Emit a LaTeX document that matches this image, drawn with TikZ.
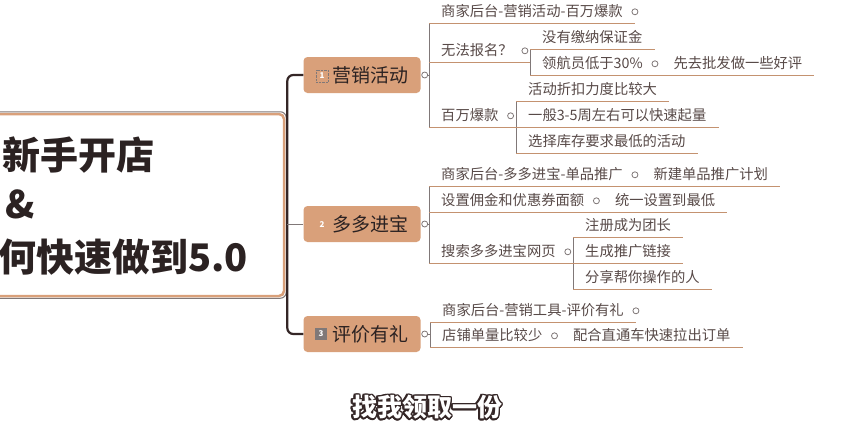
\documentclass[tikz,border=0pt]{standalone}
\usepackage{fontspec}
\usepackage{xcolor}
\usepackage{tikz}
\usepackage{contour}
\usetikzlibrary{positioning}
\setmainfont{Noto Sans CJK SC}
\definecolor{topicfill}{RGB}{217,160,122}
\definecolor{itemtext}{RGB}{88,74,72}
\definecolor{uline}{RGB}{196,146,112}
\definecolor{vline}{RGB}{128,120,120}
\definecolor{trunk}{RGB}{52,38,38}
\definecolor{dark}{RGB}{43,34,34}
\contourlength{1.6pt}

\begin{document}
\begin{tikzpicture}[x=1pt, y=-1pt, node distance=3pt]
  \tikzstyle{rootbox}=[rectangle, draw=topicfill, fill=white, line width=2.5pt, rounded corners=5pt, minimum width=304pt, minimum height=182pt]
  \tikzstyle{headline}=[anchor=base west, inner sep=0pt, text=dark, font=\fontsize{38}{44}\selectfont\bfseries]
  \tikzstyle{topic}=[rectangle, fill=topicfill, rounded corners=4pt, minimum width=117pt, minimum height=36pt, text=dark, font=\fontsize{19}{22}\selectfont]
  \tikzstyle{badge}=[rectangle, inner sep=0pt, minimum size=12pt, text=white, font=\fontsize{8}{8}\selectfont\bfseries]
  \tikzstyle{item}=[anchor=south west, inner xsep=12pt, inner ysep=4pt, text height=12pt, text depth=2pt, text=itemtext, font=\fontsize{14.3}{17}\selectfont]
  \tikzstyle{follow}=[item, anchor=west]
  \tikzstyle{knob}=[circle, draw=vline, fill=white, line width=0.8pt, minimum size=6pt, inner sep=0pt]
  \tikzstyle{ul}=[draw=uline, line width=1pt]
  \tikzstyle{vl}=[draw=vline, line width=1pt]
  \tikzstyle{stem}=[draw=trunk, line width=2.2pt, rounded corners=6pt]
  \fill[white] (0,0) rectangle (854,440);
  \useasboundingbox (0,0) rectangle (854,440);

  \node[rootbox] (root) at (132,205) {};
  \draw[vl, rounded corners=6pt] ([shift={(-1,-1)}]root.north west) rectangle ([shift={(1,1)}]root.south east);
  \node[headline] (t1) at (2,169) {新手开店};
  \node[headline] (t2) at (5,218) {\&};
  \node[headline] (t3) at (-2,271) {何快速做到5.0};

  \node[topic] (yx) at (362,75) {\hspace*{17pt}营销活动};
  \node[topic] (dd) at (362,224) {\hspace*{17pt}多多进宝};
  \node[topic] (pj) at (362,334) {\hspace*{17pt}评价有礼};
  \node[badge, draw=vline, densely dotted] (yx-n) at (322,76) {1};
  \node[badge] (dd-n) at (322,225) {2};
  \node[badge, fill=vline] (pj-n) at (321,334) {3};
  \draw[stem] (yx.west) -- ++(-16,0) |- (pj.west);
  \draw[vl] (dd.west) -- ++(-16,0);

  \node[item] (yxa) at (429,23) {商家后台-营销活动-百万爆款};
  \node[item] (yxb) at (429,62) {无法报名？};
  \node[item] (yxc) at (429,127) {百万爆款};
  \node[item] (yxb1) at (530,49) {没有缴纳保证金};
  \node[item] (yxb2) at (530,75) {领航员低于30\%};
  \node[item] (yxc1) at (516,101) {活动折扣力度比较大};
  \node[item] (yxc2) at (516,127) {一般3-5周左右可以快速起量};
  \node[item] (yxc3) at (516,153) {选择库存要求最低的活动};
  \node[knob] (yx-k) at ([xshift=4pt]yx.east) {};
  \node[knob] (yxa-k) at (yxa.east) {};
  \node[knob] (yxb-k) at (yxb.east) {};
  \node[knob] (yxb2-k) at (yxb2.east) {};
  \node[knob] (yxc-k) at (yxc.east) {};
  \node[follow, right=of yxb2-k] (yxb2a) {先去批发做一些好评};
  \draw[vl] (yx-k.east) -- (yx-k -| yxa.south west);
  \draw[vl] (yxa.south west) -- (yxc.south west);
  \draw[vl] (yxb1.south west) -- (yxb2.south west);
  \draw[vl] (yxc1.south west) -- (yxc3.south west);
  \draw[ul] (yxa.south west) -- (yxa.south east);
  \draw[ul] (yxb.south west) -- (yxb.south west -| yxb1.south west);
  \draw[ul] (yxc.south west) -- (yxc.south west -| yxc1.south west);
  \draw[ul] (yxb1.south west) -- (yxb1.south east);
  \draw[ul] (yxb2.south west) -- (yxb2a.south east);
  \draw[ul] (yxc1.south west) -- (yxc1.south east);
  \draw[ul] (yxc2.south west) -- (yxc2.south east);
  \draw[ul] (yxc3.south west) -- (yxc3.south east);

  \node[item] (dda) at (429,186) {商家后台-多多进宝-单品推广};
  \node[item] (ddb) at (429,212) {设置佣金和优惠券面额};
  \node[item] (ddc) at (429,263) {搜索多多进宝网页};
  \node[item] (ddc1) at (573,237) {注册成为团长};
  \node[item] (ddc2) at (573,263) {生成推广链接};
  \node[item] (ddc3) at (573,289) {分享帮你操作的人};
  \node[knob] (dd-k) at ([xshift=4pt]dd.east) {};
  \node[knob] (dda-k) at (dda.east) {};
  \node[knob] (ddb-k) at (ddb.east) {};
  \node[knob] (ddc-k) at (ddc.east) {};
  \node[follow, right=of dda-k] (ddax) {新建单品推广计划};
  \node[follow, right=of ddb-k] (ddbx) {统一设置到最低};
  \draw[vl] (dd-k.east) -- (dd-k -| dda.south west);
  \draw[vl] (dda.south west) -- (ddc.south west);
  \draw[vl] (ddc1.south west) -- (ddc3.south west);
  \draw[ul] (dda.south west) -- (ddax.south east);
  \draw[ul] (ddb.south west) -- (ddbx.south east);
  \draw[ul] (ddc.south west) -- (ddc.south west -| ddc1.south west);
  \draw[ul] (ddc1.south west) -- (ddc1.south east);
  \draw[ul] (ddc2.south west) -- (ddc2.south east);
  \draw[ul] (ddc3.south west) -- (ddc3.south east);

  \node[item] (pja) at (430,322) {商家后台-营销工具-评价有礼};
  \node[item] (pjb) at (430,347) {店铺单量比较少};
  \node[knob] (pj-k) at ([xshift=4pt]pj.east) {};
  \node[knob] (pja-k) at (pja.east) {};
  \node[knob] (pjb-k) at (pjb.east) {};
  \node[follow, right=of pjb-k] (pjbx) {配合直通车快速拉出订单};
  \draw[vl] (pj-k.east) -- (pj-k -| pja.south west);
  \draw[vl] (pja.south west) -- (pjb.south west);
  \draw[ul] (pja.south west) -- (pja.south east);
  \draw[ul] (pjb.south west) -- (pjbx.south east);

  \node[text=white, font=\fontsize{25}{28}\selectfont\bfseries] (cap) at (427,408) {\contour{trunk}{找我领取一份}};
\end{tikzpicture}
\end{document}
